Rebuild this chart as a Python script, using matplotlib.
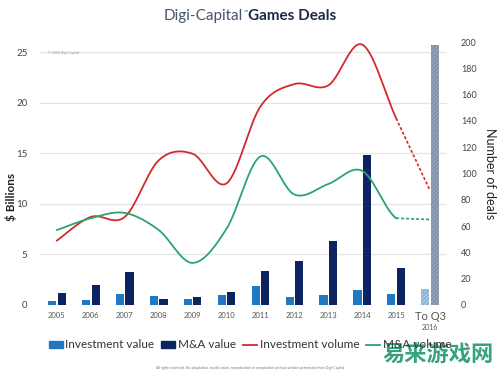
import numpy as np
import matplotlib
matplotlib.use("Agg")
import matplotlib.pyplot as plt
from matplotlib.patches import Patch
from matplotlib.lines import Line2D

plt.rcParams['font.family'] = ['Lato', 'DejaVu Sans']
plt.rcParams['hatch.linewidth'] = 0.4

categories = ['2005', '2006', '2007', '2008', '2009', '2010', '2011', '2012',
              '2013', '2014', '2015', 'To Q3']
inv_value = [0.4, 0.5, 1.05, 0.9, 0.6, 1.0, 1.9, 0.8, 0.95, 1.5, 1.1, 1.6]
ma_value = [1.15, 2.0, 3.3, 0.6, 0.8, 1.25, 3.4, 4.3, 6.3, 14.8, 3.7, 25.7]
inv_volume = [49, 67, 67, 110, 115, 92.5, 151, 168, 167, 198, 142, 87]
ma_volume = [57, 66, 70, 57, 32, 58, 113, 84, 92, 102, 66, 65]
left_ticks = [0, 5, 10, 15, 20, 25]
right_ticks = [0, 20, 40, 60, 80, 100, 120, 140, 160, 180, 200]

C_INV = '#1f78c1'
C_MA = '#0c2560'
C_RED = '#d22a2e'
C_GREEN = '#2ba374'


def catmull(x, y, n=30):
    x = np.asarray(x, float)
    y = np.asarray(y, float)
    px = np.concatenate([[x[0]], x, [x[-1]]])
    py = np.concatenate([[y[0]], y, [y[-1]]])
    xs, ys = [], []
    t = np.linspace(0, 1, n)
    for i in range(1, len(px) - 2):
        def cr(p):
            p0, p1, p2, p3 = p[i - 1], p[i], p[i + 1], p[i + 2]
            return 0.5 * ((2 * p1) + (-p0 + p2) * t +
                          (2 * p0 - 5 * p1 + 4 * p2 - p3) * t ** 2 +
                          (-p0 + 3 * p1 - 3 * p2 + p3) * t ** 3)
        xs.append(cr(px))
        ys.append(cr(py))
    return np.concatenate(xs), np.concatenate(ys)


fig = plt.figure(figsize=(5, 3.75), dpi=100)
ax = fig.add_axes([0.08, 0.1867, 0.814, 0.7013])
x = np.arange(len(categories))
w = 0.24
off = 0.14
n = len(categories)

inv_colors = [C_INV] * (n - 1) + ['#8fb5d6']
ma_colors = [C_MA] * (n - 1) + ['#8292aa']
b1 = ax.bar(x - off, inv_value, w, color=inv_colors, zorder=2, linewidth=0)
b2 = ax.bar(x + off, ma_value, w, color=ma_colors, zorder=2, linewidth=0)
b1[-1].set_hatch('////////')
b1[-1].set_edgecolor('#c8dcec')
b2[-1].set_hatch('////////')
b2[-1].set_edgecolor('#aab6c6')

ax.set_xlim(-0.5, n - 0.5)
ax.set_ylim(0, 26)
ax.set_yticks(left_ticks)
ax.yaxis.grid(True, color='#e4e4e4', lw=0.9, zorder=0)
ax.set_axisbelow(True)
for s in ax.spines.values():
    s.set_visible(False)
ax.tick_params(axis='y', length=0, pad=9, labelsize=7, labelcolor='#444444')
ax.set_xticks(x[:-1])
ax.set_xticklabels(categories[:-1])
ax.tick_params(axis='x', length=0, pad=5, labelsize=5.5, labelcolor='#555555')
ax.text(x[-1], -0.6, categories[-1], ha='center', va='top', fontsize=8,
        color='#555555', transform=ax.transData)
ax.text(x[-1], -1.9, '2016', ha='center', va='top', fontsize=5,
        color='#555555', transform=ax.transData)
fig.text(0.022, 0.475, '$ Billions', rotation=90, ha='center', va='center',
         fontsize=8.5, fontweight='bold', color='#222222')
ax.text(0.02, 0.955, '© 2016 Digi-Capital', transform=ax.transAxes,
        fontsize=2.5, color='#999999')

ax2 = ax.twinx()
ax2.set_ylim(0, 200)
ax2.set_yticks(right_ticks)
for s in ax2.spines.values():
    s.set_visible(False)
ax2.tick_params(axis='y', length=0, pad=10, labelsize=6.5, labelcolor='#444444')
ax2.set_ylabel('Number of deals', rotation=-90, fontsize=9, color='#222222',
               labelpad=14)

for vals, col in [(inv_volume, C_RED), (ma_volume, C_GREEN)]:
    sx, sy = catmull(x, vals)
    solid = sx <= x[-2]
    ax2.plot(sx[solid], sy[solid], color=col, lw=1.3, zorder=3)
    ax2.plot(x[-2:], vals[-2:], color=col, lw=1.2, ls=(0, (1.8, 1.2)), zorder=3)

# Title
fig.text(0.486, 0.958, 'Digi-Capital', ha='right', va='center', fontsize=11,
         color='#46546c')
fig.text(0.488, 0.968, '™', ha='left', va='center', fontsize=4, color='#46546c')
fig.text(0.495, 0.958, 'Games Deals', ha='left', va='center', fontsize=11,
         fontweight='bold', color='#1e2b42')

handles = [Patch(color=C_INV), Patch(color=C_MA),
           Line2D([], [], color=C_RED, lw=1.3),
           Line2D([], [], color=C_GREEN, lw=1.3)]
labels = ['Investment value', 'M&A value', 'Investment volume', 'M&A volume']
fig.legend(handles, labels, loc='center', bbox_to_anchor=(0.5, 0.08), ncol=4,
           frameon=False, fontsize=8.5, handlelength=1.2, handleheight=0.5,
           handletextpad=0.2, columnspacing=0.6, labelcolor='#333333')

fig.text(0.5, 0.02, 'All rights reserved. No adaptation, modification, reproduction or '
         'compilation without written permission from Digi-Capital',
         ha='center', va='center', fontsize=2.5, color='#777777')

fig.text(0.876, 0.053, '易来游戏网', ha='center', va='center', fontsize=16,
         fontweight='bold', color='#1f9a6c', alpha=0.9,
         family=['Noto Sans CJK SC', 'DejaVu Sans'])

fig.savefig('out.png', dpi=100)
